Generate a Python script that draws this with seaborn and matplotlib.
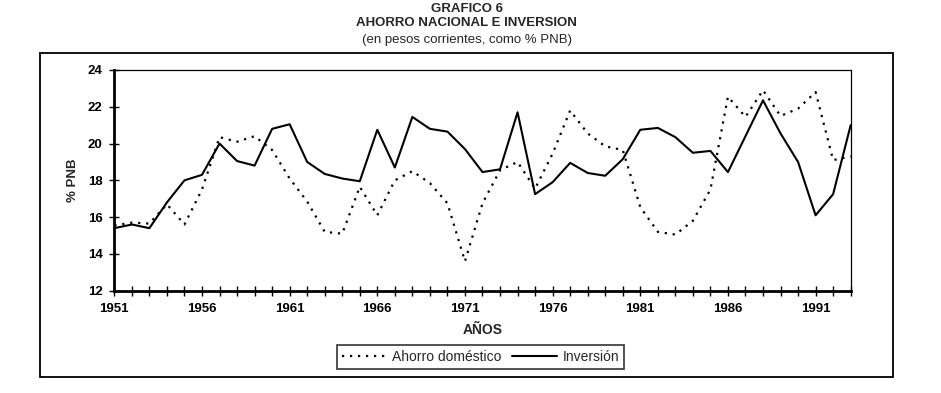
import seaborn as sns
import pandas as pd
import matplotlib.pyplot as plt
from matplotlib.patches import Rectangle
from matplotlib.ticker import MultipleLocator

years = list(range(1951, 1994))
ahorro = [15.55, 15.7, 15.65, 16.7, 15.6, 17.5, 20.35, 20.1, 20.4, 19.65,
          18.1, 16.85, 15.2, 15.1, 17.65, 16.1, 18.0, 18.5, 17.85, 16.75,
          13.6, 16.75, 18.55, 19.0, 17.55, 19.45, 21.8, 20.55, 19.85, 19.65,
          16.55, 15.2, 15.05, 15.8, 17.5, 22.55, 21.45, 22.9, 21.5, 21.9,
          22.8, 19.1, 19.3]
inversion = [15.4, 15.6, 15.4, 16.8, 18.0, 18.3, 20.0, 19.05, 18.8, 20.8,
             21.05, 19.0, 18.35, 18.1, 17.95, 20.75, 18.7, 21.45, 20.8, 20.65,
             19.7, 18.45, 18.6, 21.7, 17.25, 17.9, 18.95, 18.4, 18.25, 19.15,
             20.75, 20.85, 20.35, 19.5, 19.6, 18.45, 20.4, 22.35, 20.55, 19.0,
             16.1, 17.25, 21.0]
y_ticks = [12, 14, 16, 18, 20, 22, 24]
x_labels = [1951, 1956, 1961, 1966, 1971, 1976, 1981, 1986, 1991]

df = pd.DataFrame({"year": years, "Ahorro doméstico": ahorro, "Inversión": inversion})

sns.set_style("white")
plt.rcParams['font.family'] = ['Liberation Sans', 'DejaVu Sans']

fig = plt.figure(figsize=(9.41, 3.93), dpi=100)
ax = fig.add_axes([0.1215, 0.2603, 0.7825, 0.5616])

sns.lineplot(data=df, x="year", y="Ahorro doméstico", ax=ax, color="black",
             linestyle=(0, (1, 2.6)), linewidth=1.6, label="Ahorro doméstico")
sns.lineplot(data=df, x="year", y="Inversión", ax=ax, color="black",
             linewidth=1.5, label="Inversión")

ax.set_xlim(1951, 1993)
ax.set_ylim(12, 24)
ax.set_yticks(y_ticks)
ax.set_xticks(x_labels)
ax.xaxis.set_minor_locator(MultipleLocator(1))
ax.tick_params(axis="both", which="both", direction="inout", length=7, width=1,
               colors="black", labelsize=9.5, bottom=True, left=True)
ax.tick_params(axis="x", which="major", pad=5)
ax.tick_params(axis="y", which="major", pad=5)
for lab in ax.get_xticklabels() + ax.get_yticklabels():
    lab.set_fontweight("bold")

for side in ["top", "right"]:
    ax.spines[side].set_linewidth(0.9)
for side in ["left", "bottom"]:
    ax.spines[side].set_linewidth(2)
for sp in ax.spines.values():
    sp.set_color("black")

ax.set_xlabel("AÑOS", fontsize=10, fontweight="bold", labelpad=6)
ax.set_ylabel("% PNB", fontsize=9.5, fontweight="bold", labelpad=6)

leg = ax.legend(loc="center", bbox_to_anchor=(0.5106, 0.0916),
                bbox_transform=fig.transFigure, ncol=2, frameon=True,
                fancybox=False, edgecolor="black", fontsize=10,
                handlelength=3.2, columnspacing=0.8, handletextpad=0.4,
                borderpad=0.35)
leg.get_frame().set_linewidth(1.2)

# outer frame
fig.patches.append(Rectangle((0.0425, 0.04), 0.9068, 0.826, transform=fig.transFigure,
                             fill=False, edgecolor="black", linewidth=1.3))

fig.text(0.496, 0.978, "GRAFICO 6", ha="center", va="center", fontsize=9.5, fontweight="bold")
fig.text(0.496, 0.942, "AHORRO NACIONAL E INVERSION", ha="center", va="center",
         fontsize=9.5, fontweight="bold")
fig.text(0.496, 0.898, "(en pesos corrientes, como % PNB)", ha="center", va="center", fontsize=9.5)

fig.savefig("out.png", dpi=100, facecolor="white")
